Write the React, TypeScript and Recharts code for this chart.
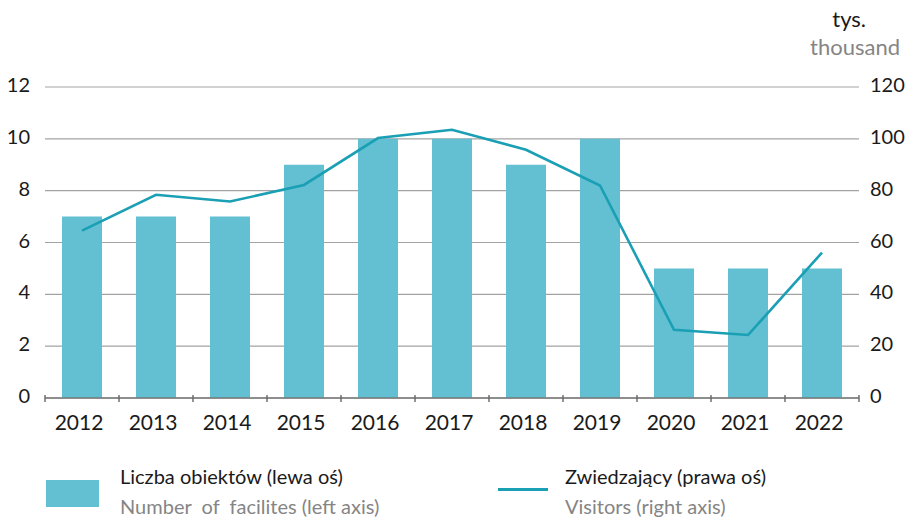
import React from 'react';
import { ComposedChart, Bar, Line, XAxis, YAxis, CartesianGrid } from 'recharts';

const years = ['2012', '2013', '2014', '2015', '2016', '2017', '2018', '2019', '2020', '2021', '2022'];
const facilities = [7, 7, 7, 9, 10, 10, 9, 10, 5, 5, 5];
const visitors = [64.6, 78.4, 75.8, 82.2, 100.3, 103.5, 95.8, 82, 26.3, 24.3, 56.1];
const leftTicks = [0, 2, 4, 6, 8, 10, 12];
const rightTicks = [0, 20, 40, 60, 80, 100, 120];
const bandEdges = [0, 1, 2, 3, 4, 5, 6, 7, 8, 9, 10, 11];

const BAR_COLOR = '#62c0d2';
const LINE_COLOR = '#1a9fb4';
const FONT = 'Lato, "Open Sans", sans-serif';

const data = years.map((year, i) => ({
  year,
  facilities: facilities[i],
  visitors: visitors[i],
  edge: i,
}));

// y-axis labels sit a little above their gridline
const LeftTick = ({ x, y, payload }: any) => (
  <text x={x} y={y} dy={-3} textAnchor="end" dominantBaseline="central" fontFamily={FONT} fontSize={20} fill="#1a1a1a">
    {payload.value}
  </text>
);

const RightTick = ({ x, y, payload }: any) => (
  <text x={x} y={y} dy={-3} textAnchor="start" dominantBaseline="central" fontFamily={FONT} fontSize={20} fill="#1a1a1a">
    {payload.value}
  </text>
);

const YearTick = ({ x, y, payload }: any) => (
  <text x={x - 3} y={y} dy={32} textAnchor="middle" fontFamily={FONT} fontSize={21} fill="#1a1a1a">
    {payload.value}
  </text>
);

// small marks on the band edges, crossing the axis line
const EdgeTick = ({ x, y }: any) => (
  <line x1={x} x2={x} y1={y - 4} y2={y + 3} stroke="#666" strokeWidth={1.4} />
);

export default function App() {
  return (
    <div style={{ position: 'absolute', left: 0, top: 0, width: 908, height: 517, background: '#fff', fontFamily: FONT }}>
      <div style={{ position: 'absolute', right: 42, top: 5, fontSize: 22, color: '#1a1a1a' }}>tys.</div>
      <div style={{ position: 'absolute', right: 8, top: 33, fontSize: 22, color: '#858585' }}>thousand</div>

      <ComposedChart width={908} height={517} data={data} margin={{ top: 87, right: 0, bottom: 79, left: 0 }}>
        <CartesianGrid vertical={false} stroke="#a3a3a3" strokeWidth={1.2} yAxisId="left" />
        <XAxis
          xAxisId="edges"
          dataKey="edge"
          type="number"
          scale="linear"
          domain={[0, 11]}
          ticks={bandEdges}
          allowDataOverflow
          height={39}
          axisLine={false}
          tickLine={false}
          tickSize={0}
          tickMargin={0}
          tick={<EdgeTick />}
          interval={0}
        />
        <XAxis
          dataKey="year"
          height={1}
          axisLine={{ stroke: '#777', strokeWidth: 1.4 }}
          tickLine={false}
          tickSize={0}
          tickMargin={0}
          tick={<YearTick />}
          interval={0}
        />
        <YAxis
          yAxisId="left"
          width={45}
          domain={[0, 12]}
          ticks={leftTicks}
          axisLine={false}
          tickLine={false}
          tickSize={0}
          tickMargin={15}
          tick={<LeftTick />}
        />
        <YAxis
          yAxisId="right"
          orientation="right"
          width={49}
          domain={[0, 120]}
          ticks={rightTicks}
          axisLine={false}
          tickLine={false}
          tickSize={0}
          tickMargin={11}
          tick={<RightTick />}
        />
        <Bar yAxisId="left" dataKey="facilities" fill={BAR_COLOR} barSize={40} isAnimationActive={false} />
        <Line
          yAxisId="right"
          dataKey="visitors"
          type="linear"
          stroke={LINE_COLOR}
          strokeWidth={2.6}
          dot={false}
          activeDot={false}
          isAnimationActive={false}
        />
      </ComposedChart>

      {/* legend */}
      <div style={{ position: 'absolute', left: 46, top: 480, width: 53, height: 27, background: BAR_COLOR }} />
      <div style={{ position: 'absolute', left: 120, top: 461, fontSize: 20, lineHeight: '30px' }}>
        <div style={{ color: '#1a1a1a' }}>Liczba obiektów (lewa oś)</div>
        <div style={{ color: '#858585' }}>Number&nbsp; of&nbsp; facilites (left axis)</div>
      </div>
      <div style={{ position: 'absolute', left: 498, top: 488, width: 50, height: 3, background: LINE_COLOR }} />
      <div style={{ position: 'absolute', left: 565, top: 461, fontSize: 20, lineHeight: '30px' }}>
        <div style={{ color: '#1a1a1a' }}>Zwiedzający (prawa oś)</div>
        <div style={{ color: '#858585' }}>Visitors (right axis)</div>
      </div>
    </div>
  );
}
